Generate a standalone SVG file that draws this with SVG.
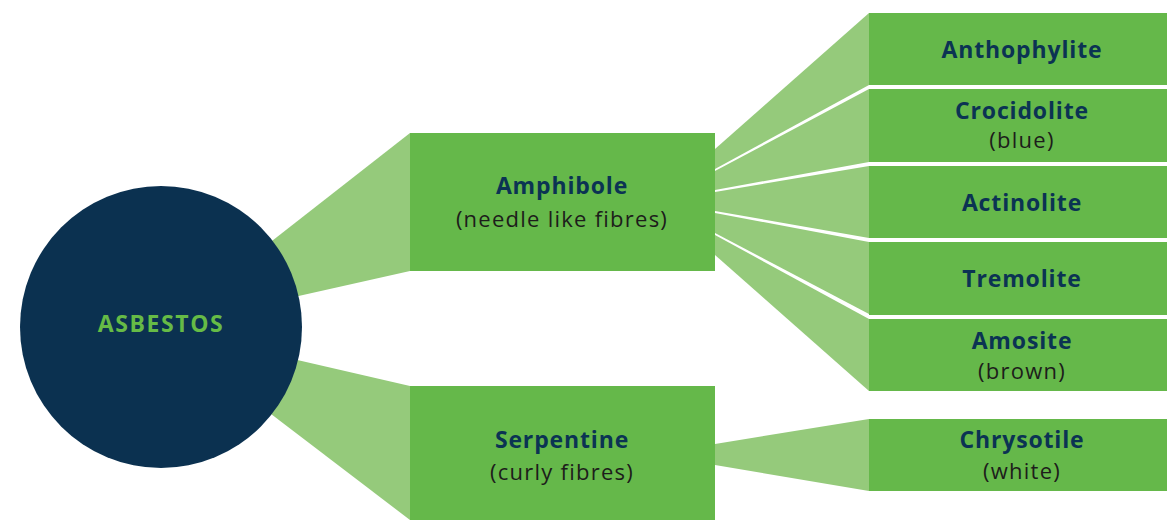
<svg xmlns="http://www.w3.org/2000/svg" width="1167" height="520" viewBox="0 0 1167 520">
<style>
.box{fill:#65b84a}
.fan{fill:#95ca7b}
.t{font-family:"Open Sans","Noto Sans",sans-serif;font-weight:700;font-size:23px;fill:#0b3353;text-anchor:middle;letter-spacing:0.85px}
.s{font-family:"Open Sans","Noto Sans",sans-serif;font-weight:400;font-size:22px;fill:#1d1d1b;text-anchor:middle;letter-spacing:1.25px}
.c{font-family:"Open Sans","Noto Sans",sans-serif;font-weight:700;font-size:23px;fill:#66bb46;text-anchor:middle;letter-spacing:1.6px}
</style>
<rect width="1167" height="520" fill="#ffffff"/>
<g id="connectors">
<polygon class="fan" points="250,258 410,133 410,271 250,307"/>
<polygon class="fan" points="250,349 410,386 410,520 250,398"/>
<polygon class="fan" points="715,149 869,13 869,85 715,169"/>
<polygon class="fan" points="715,171 869,89 869,162 715,190"/>
<polygon class="fan" points="715,192 869,166 869,238 715,211"/>
<polygon class="fan" points="715,213 869,242 869,314 715,233"/>
<polygon class="fan" points="715,235 869,319 869,391 715,255"/>
<polygon class="fan" points="715,444 869,419 869,491 715,465"/>
</g>
<g id="asbestos">
<circle cx="161" cy="327" r="141" fill="#0b3150"/>
<text class="c" x="161" y="332">ASBESTOS</text>
</g>
<g id="amphibole">
<rect class="box" x="410" y="133" width="305" height="138"/>
<text class="t" x="562" y="194">Amphibole</text>
<text class="s" x="562" y="227">(needle like fibres)</text>
</g>
<g id="serpentine">
<rect class="box" x="410" y="386" width="305" height="138"/>
<text class="t" x="562" y="448">Serpentine</text>
<text class="s" x="562" y="480">(curly fibres)</text>
</g>
<g id="anthophylite">
<rect class="box" x="869" y="13" width="298" height="72"/>
<text class="t" x="1022" y="58">Anthophylite</text>
</g>
<g id="crocidolite">
<rect class="box" x="869" y="89" width="298" height="73"/>
<text class="t" x="1022" y="119">Crocidolite</text>
<text class="s" x="1022" y="148">(blue)</text>
</g>
<g id="actinolite">
<rect class="box" x="869" y="166" width="298" height="72"/>
<text class="t" x="1022" y="211">Actinolite</text>
</g>
<g id="tremolite">
<rect class="box" x="869" y="242" width="298" height="73"/>
<text class="t" x="1022" y="287">Tremolite</text>
</g>
<g id="amosite">
<rect class="box" x="869" y="319" width="298" height="72"/>
<text class="t" x="1022" y="349">Amosite</text>
<text class="s" x="1022" y="379">(brown)</text>
</g>
<g id="chrysotile">
<rect class="box" x="869" y="419" width="298" height="72"/>
<text class="t" x="1022" y="448">Chrysotile</text>
<text class="s" x="1022" y="479">(white)</text>
</g>
</svg>
